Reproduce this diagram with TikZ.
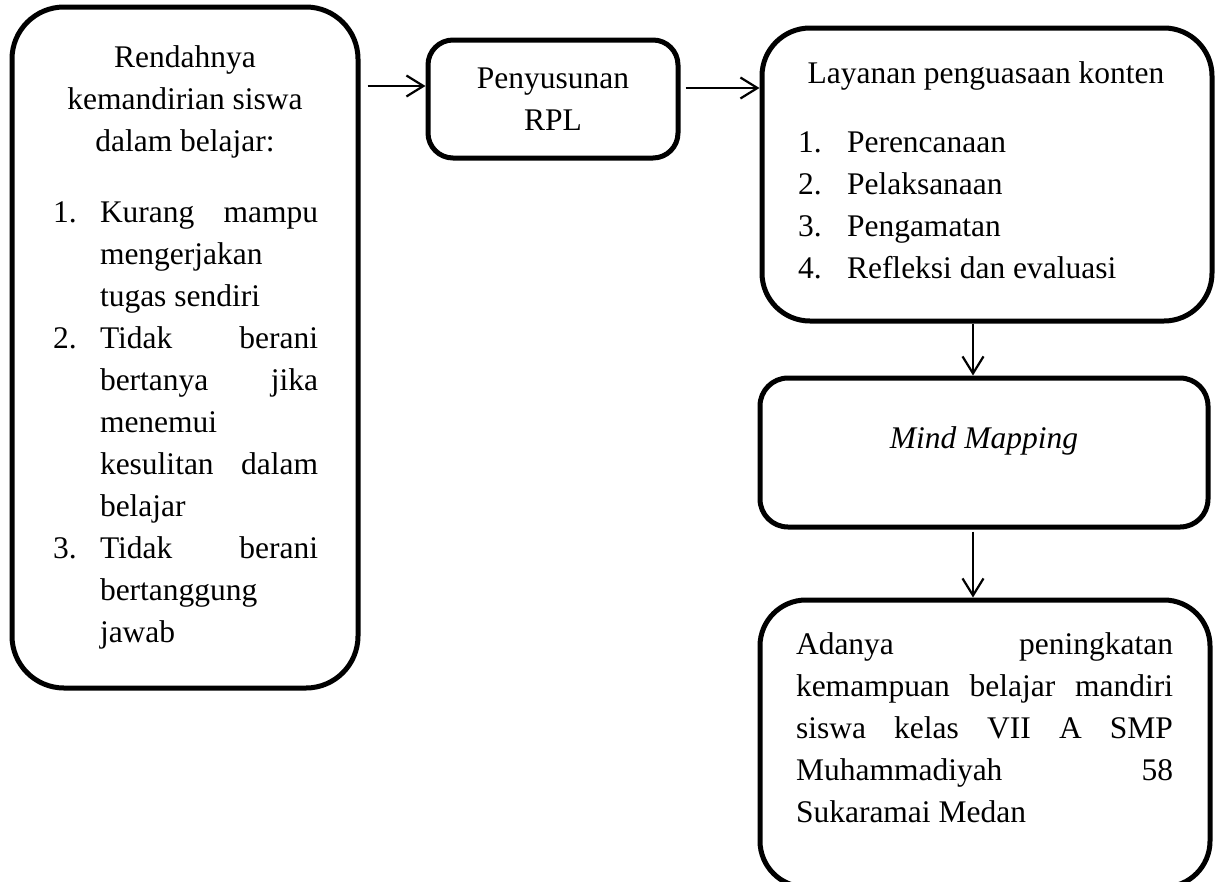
\documentclass[tikz,border=0pt]{standalone}
\usepackage{fontspec}
\setmainfont{Liberation Serif}
\usetikzlibrary{arrows.meta}
\tikzset{
  boxnode/.style={draw, line width=5pt, inner sep=0pt, rectangle},
  arr/.style={-{Straight Barb[length=17pt,width=21pt]}, line width=2.2pt},
  txt/.style={inner sep=0pt, outer sep=0pt, font=\fontsize{31.5pt}{42pt}\selectfont},
}
\newcommand{\jline}[2]{\makebox[#1][s]{#2}}
\begin{document}
\begin{tikzpicture}[x=1pt,y=-1pt]
\useasboundingbox (0,0) rectangle (1217,881);
% boxes
\node[boxnode, rounded corners=52pt, minimum width=346pt, minimum height=681pt] (b1) at (185,347.5) {};
\node[boxnode, rounded corners=25pt, minimum width=250pt, minimum height=118pt] (b2) at (553,99) {};
\node[boxnode, rounded corners=48pt, minimum width=450pt, minimum height=293pt] (b3) at (987,174.5) {};
\node[boxnode, rounded corners=28pt, minimum width=448pt, minimum height=149pt] (b4) at (984,452.5) {};
\node[boxnode, rounded corners=46pt, minimum width=450pt, minimum height=287pt] (b5) at (985,743.5) {};
% left box text
\node[txt, anchor=base] (t1a) at (185,67) {Rendahnya};
\node[txt, anchor=base] (t1b) at (185,109) {kemandirian siswa};
\node[txt, anchor=base] (t1c) at (185,151) {dalam belajar:};
\node[txt, anchor=base west] (n1) at (53,222) {1.};
\node[txt, anchor=base west] (l1) at (100,222) {\jline{218pt}{Kurang mampu}};
\node[txt, anchor=base west] (l2) at (100,264) {mengerjakan};
\node[txt, anchor=base west] (l3) at (100,306) {tugas sendiri};
\node[txt, anchor=base west] (n2) at (53,348) {2.};
\node[txt, anchor=base west] (l4) at (100,348) {\jline{218pt}{Tidak berani}};
\node[txt, anchor=base west] (l5) at (100,390) {\jline{218pt}{bertanya jika}};
\node[txt, anchor=base west] (l6) at (100,432) {menemui};
\node[txt, anchor=base west] (l7) at (100,474) {\jline{218pt}{kesulitan dalam}};
\node[txt, anchor=base west] (l8) at (100,516) {belajar};
\node[txt, anchor=base west] (n3) at (53,558) {3.};
\node[txt, anchor=base west] (l9) at (100,558) {\jline{218pt}{Tidak berani}};
\node[txt, anchor=base west] (l10) at (100,600) {bertanggung};
\node[txt, anchor=base west] (l11) at (100,642) {jawab};
% Penyusunan RPL
\node[txt, anchor=base] (t2a) at (553,88) {Penyusunan};
\node[txt, anchor=base] (t2b) at (553,130) {RPL};
% Layanan
\node[txt, anchor=base] (t3) at (986,83) {Layanan penguasaan konten};
\node[txt, anchor=base west] (m1) at (798,152) {1.};
\node[txt, anchor=base west] (k1) at (847,152) {Perencanaan};
\node[txt, anchor=base west] (m2) at (798,194) {2.};
\node[txt, anchor=base west] (k2) at (847,194) {Pelaksanaan};
\node[txt, anchor=base west] (m3) at (798,236) {3.};
\node[txt, anchor=base west] (k3) at (847,236) {Pengamatan};
\node[txt, anchor=base west] (m4) at (798,278) {4.};
\node[txt, anchor=base west] (k4) at (847,278) {Refleksi dan evaluasi};
% Mind Mapping
\node[txt, anchor=base] (t4) at (984,448) {\textit{Mind Mapping}};
% result box
\node[txt, anchor=base west] (r1) at (796,654) {\jline{377pt}{Adanya peningkatan}};
\node[txt, anchor=base west] (r2) at (796,696) {\jline{377pt}{kemampuan belajar mandiri}};
\node[txt, anchor=base west] (r3) at (796,738) {\jline{377pt}{siswa kelas VII A SMP}};
\node[txt, anchor=base west] (r4) at (796,780) {\jline{377pt}{Muhammadiyah 58}};
\node[txt, anchor=base west] (r5) at (796,822) {Sukaramai Medan};
% connectors
\draw[arr, shorten <=7pt] (b1.east |- 0,86) -- (b2.west |- 0,86);
\draw[arr, shorten <=5pt] (b2.east |- 0,88) -- (b3.west |- 0,88);
\draw[arr] (b3.south -| 973,0) -- (b4.north -| 973,0);
\draw[arr, shorten <=2pt] (b4.south -| 973,0) -- (b5.north -| 973,0);
\end{tikzpicture}
\end{document}
